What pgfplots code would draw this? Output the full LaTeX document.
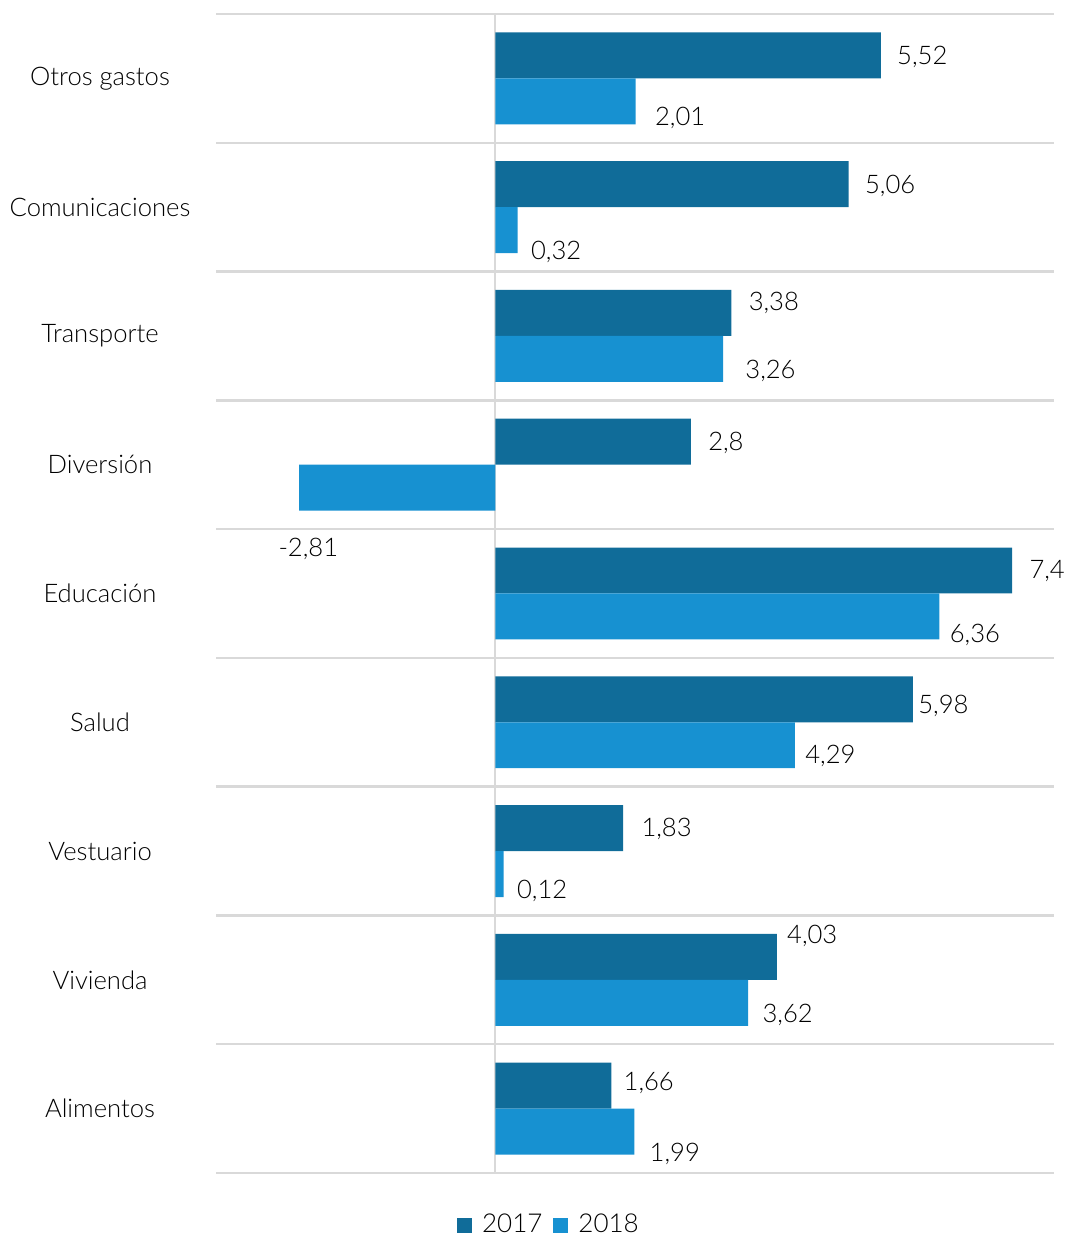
\documentclass[border=0pt]{standalone}
\usepackage{pgfplots}
\pgfplotsset{compat=1.18}
\usepackage{pgfplotstable}
\usepackage{fontspec}
\setmainfont{Lato}[UprightFont=* Light]
\definecolor{cA}{HTML}{106C99}
\definecolor{cB}{HTML}{1791D1}
\definecolor{gridc}{HTML}{D9D9D9}
\pgfplotstableread{
y a alab adx ady b blab bdx bdy
0 1.66 1,66 6 1.5 1.99 1,99 7.5 -11
1 4.03 4,03 5 10.5 3.62 3,62 7 -6
2 1.83 1,83 9 -0.5 0.12 0,12 6.5 -8.5
3 5.98 5,98 2.5 -3.5 4.29 4,29 5 -5.5
4 7.4 7,4 8.5 -0.5 6.36 6,36 5 -9
5 2.8 2,8 8.5 -0.5 -2.81 -2,81 -10.5 -30.5
6 3.38 3,38 8.5 5 3.26 3,26 11 -6
7 5.06 5,06 8 -1 0.32 0,32 6.5 -11
8 5.52 5,52 8 -1 2.01 2,01 9.5 -8.5
}\data
\begin{document}
\begin{tikzpicture}
\begin{axis}[
  width=419pt, height=579.5pt, scale only axis,
  xmin=-4, xmax=8, ymin=-0.5, ymax=8.5,
  axis line style={draw=none},
  xtick=\empty,
  extra x ticks={0}, extra x tick labels={},
  extra x tick style={grid=major, major grid style={draw=gridc, line width=1pt}, major tick length=0pt},
  ytick={0,1,2,3,4,5,6,7,8},
  yticklabels={Alimentos,Vivienda,Vestuario,Salud,Educación,Diversión,Transporte,Comunicaciones,Otros gastos},
  yticklabel style={anchor=center, xshift=-58pt, font=\fontsize{12.8}{14}\selectfont},
  major tick length=0pt,
  minor ytick={-0.5,0.5,...,8.5},
  minor tick length=0pt,
  yminorgrids=true,
  minor grid style={draw=gridc, line width=1.2pt},
  legend style={draw=none, at={(0.3985,-0.0449)}, anchor=center, legend columns=-1,
    font=\fontsize{13}{14}\selectfont, inner sep=0pt,
    /tikz/every even column/.append style={column sep=3.5pt},
    /tikz/every odd column/.append style={column sep=3pt}},
  clip=false,
]
\addplot[xbar, bar width=0.357, bar shift=0.1785, fill=cA, draw=none,
  legend image code/.code={\fill[cA] (0pt,-3.75pt) rectangle (7.5pt,3.75pt);}]
  table[x=a, y=y]{\data};
\addlegendentry{2017}
\addplot[xbar, bar width=0.357, bar shift=-0.1785, fill=cB, draw=none,
  legend image code/.code={\fill[cB] (0pt,-3.75pt) rectangle (7.5pt,3.75pt);}]
  table[x=b, y=y]{\data};
\addlegendentry{2018}
\addplot[draw=none, mark=none, forget plot, nodes near coords, point meta=explicit symbolic,
  visualization depends on={\thisrow{adx} \as \dx},
  visualization depends on={\thisrow{ady} \as \dy},
  nodes near coords align={anchor=west},
  every node near coord/.append style={xshift=\dx pt, yshift=\dy pt, inner sep=0pt, font=\fontsize{12.8}{14}\selectfont, text=black}]
  table[x=a, y expr=\thisrow{y}+0.1785, meta=alab]{\data};
\addplot[draw=none, mark=none, forget plot, nodes near coords, point meta=explicit symbolic,
  visualization depends on={\thisrow{bdx} \as \dx},
  visualization depends on={\thisrow{bdy} \as \dy},
  nodes near coords align={anchor=west},
  every node near coord/.append style={xshift=\dx pt, yshift=\dy pt, inner sep=0pt, font=\fontsize{12.8}{14}\selectfont, text=black}]
  table[x=b, y expr=\thisrow{y}-0.1785, meta=blab]{\data};
\coordinate (sw) at (rel axis cs:0,0);
\coordinate (ne) at (rel axis cs:1,1);
\end{axis}
\pgfresetboundingbox
\path ([shift={(-108pt,-32pt)}]sw) rectangle ([shift={(5.5pt,7pt)}]ne);
\end{tikzpicture}
\end{document}
